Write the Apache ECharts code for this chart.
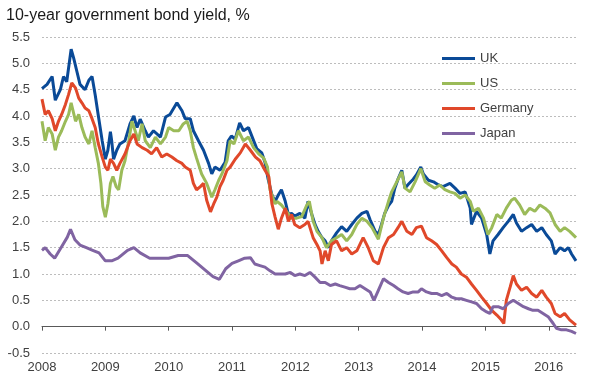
<!DOCTYPE html>
<html>
<head>
<meta charset="utf-8">
<script src="https://cdn.jsdelivr.net/npm/echarts@6/dist/echarts.min.js"></script>
<style>
html,body{margin:0;padding:0;background:#fff;}
#chart{width:590px;height:386px;}
</style>
</head>
<body>
<div id="chart"></div>
<script>
// Time positions (decimal years) and values (%)
var ukX = [2008.00,2008.08,2008.16,2008.21,2008.29,2008.34,2008.39,2008.46,2008.50,2008.55,2008.60,2008.68,2008.74,2008.79,2008.84,2008.89,2008.95,2009.00,2009.04,2009.08,2009.10,2009.13,2009.18,2009.23,2009.31,2009.39,2009.45,2009.50,2009.55,2009.63,2009.68,2009.76,2009.87,2009.95,2010.02,2010.13,2010.21,2010.26,2010.34,2010.39,2010.47,2010.55,2010.63,2010.68,2010.73,2010.81,2010.89,2010.94,2010.99,2011.05,2011.12,2011.18,2011.26,2011.39,2011.47,2011.52,2011.57,2011.63,2011.68,2011.73,2011.78,2011.84,2011.89,2011.94,2011.99,2012.07,2012.15,2012.20,2012.26,2012.31,2012.36,2012.42,2012.47,2012.52,2012.57,2012.65,2012.73,2012.81,2012.89,2012.97,2013.05,2013.13,2013.18,2013.26,2013.31,2013.36,2013.41,2013.47,2013.52,2013.57,2013.62,2013.68,2013.73,2013.78,2013.86,2013.91,2013.98,2014.02,2014.10,2014.18,2014.26,2014.33,2014.44,2014.52,2014.60,2014.68,2014.76,2014.78,2014.86,2014.94,2015.02,2015.07,2015.12,2015.20,2015.28,2015.36,2015.44,2015.49,2015.57,2015.65,2015.73,2015.81,2015.89,2015.96,2016.04,2016.10,2016.18,2016.25,2016.31,2016.36,2016.43];
var ukY = [4.52,4.60,4.75,4.30,4.50,4.75,4.65,5.27,5.10,4.85,4.60,4.50,4.68,4.75,4.40,4.00,3.53,3.18,3.35,3.70,3.53,3.18,3.35,3.47,3.53,3.85,4.00,3.78,3.94,3.72,3.60,3.72,3.60,3.98,4.03,4.25,4.10,3.95,3.95,3.72,3.53,3.35,3.10,2.90,3.03,2.97,3.12,3.53,3.62,3.56,3.87,3.72,3.78,3.38,3.30,3.12,2.80,2.50,2.38,2.50,2.60,2.38,2.13,2.15,2.10,2.15,2.06,2.38,2.13,1.94,1.81,1.69,1.63,1.50,1.63,1.78,1.90,1.81,1.94,2.06,2.15,2.19,2.03,1.81,1.75,1.94,2.15,2.30,2.38,2.63,2.80,2.97,2.63,2.70,2.80,2.88,3.03,2.90,2.78,2.75,2.69,2.66,2.72,2.63,2.53,2.56,2.25,1.94,2.19,2.06,1.75,1.38,1.63,1.75,1.88,2.00,2.13,1.97,1.81,1.88,1.94,1.81,1.88,1.75,1.63,1.38,1.50,1.44,1.50,1.38,1.25];

var usX = [2008.00,2008.05,2008.10,2008.16,2008.21,2008.26,2008.31,2008.37,2008.42,2008.46,2008.53,2008.58,2008.63,2008.68,2008.74,2008.79,2008.84,2008.89,2008.93,2008.96,2009.00,2009.04,2009.08,2009.12,2009.17,2009.21,2009.26,2009.31,2009.37,2009.42,2009.47,2009.52,2009.58,2009.63,2009.71,2009.79,2009.87,2009.95,2010.00,2010.08,2010.16,2010.23,2010.29,2010.34,2010.39,2010.44,2010.52,2010.60,2010.68,2010.73,2010.79,2010.84,2010.92,2010.97,2011.03,2011.10,2011.18,2011.26,2011.34,2011.42,2011.50,2011.56,2011.60,2011.68,2011.71,2011.78,2011.86,2011.94,2012.02,2012.10,2012.18,2012.22,2012.28,2012.34,2012.42,2012.49,2012.57,2012.65,2012.73,2012.81,2012.89,2012.97,2013.05,2013.13,2013.21,2013.31,2013.39,2013.47,2013.52,2013.60,2013.68,2013.73,2013.81,2013.89,2013.98,2014.05,2014.12,2014.20,2014.28,2014.36,2014.44,2014.52,2014.60,2014.68,2014.76,2014.81,2014.89,2014.97,2015.04,2015.10,2015.18,2015.25,2015.33,2015.41,2015.46,2015.54,2015.62,2015.70,2015.78,2015.86,2015.94,2016.02,2016.10,2016.18,2016.25,2016.33,2016.43];
var usY = [3.90,3.53,3.78,3.66,3.35,3.60,3.72,3.90,4.03,4.25,3.90,4.03,3.78,3.60,3.47,3.72,3.40,3.10,2.72,2.28,2.08,2.33,2.72,2.85,2.66,2.60,2.97,3.15,3.53,3.90,3.72,3.53,3.85,3.53,3.40,3.60,3.47,3.60,3.78,3.72,3.72,3.85,3.90,3.72,3.40,3.20,2.90,2.72,2.46,2.60,2.78,2.90,3.15,3.53,3.47,3.72,3.53,3.60,3.40,3.28,3.20,3.03,2.60,2.33,2.38,2.31,2.19,2.06,2.06,2.09,2.31,2.38,2.00,1.81,1.69,1.50,1.63,1.69,1.75,1.63,1.75,1.94,2.06,2.00,1.88,1.66,2.06,2.38,2.56,2.75,2.94,2.63,2.56,2.75,3.00,2.75,2.69,2.63,2.69,2.60,2.56,2.53,2.44,2.50,2.38,2.19,2.25,2.06,1.75,1.88,2.13,2.06,2.25,2.40,2.44,2.31,2.13,2.25,2.19,2.31,2.25,2.16,1.94,1.81,1.88,1.81,1.69];

var deX = [2008.00,2008.05,2008.10,2008.16,2008.21,2008.26,2008.31,2008.37,2008.42,2008.47,2008.53,2008.58,2008.63,2008.68,2008.74,2008.79,2008.84,2008.89,2008.95,2009.00,2009.04,2009.08,2009.13,2009.18,2009.23,2009.31,2009.39,2009.45,2009.50,2009.58,2009.66,2009.73,2009.81,2009.89,2009.97,2010.05,2010.13,2010.21,2010.26,2010.34,2010.39,2010.44,2010.50,2010.55,2010.60,2010.66,2010.71,2010.76,2010.81,2010.86,2010.92,2010.97,2011.05,2011.13,2011.21,2011.29,2011.37,2011.44,2011.52,2011.58,2011.63,2011.68,2011.73,2011.78,2011.84,2011.89,2011.94,2011.99,2012.07,2012.15,2012.20,2012.28,2012.34,2012.39,2012.42,2012.47,2012.52,2012.57,2012.65,2012.73,2012.81,2012.89,2012.97,2013.07,2013.15,2013.23,2013.31,2013.39,2013.47,2013.55,2013.62,2013.68,2013.76,2013.84,2013.91,2013.99,2014.07,2014.15,2014.23,2014.31,2014.39,2014.47,2014.54,2014.62,2014.70,2014.78,2014.86,2014.94,2015.02,2015.10,2015.18,2015.25,2015.29,2015.33,2015.39,2015.44,2015.49,2015.57,2015.65,2015.73,2015.81,2015.89,2015.96,2016.04,2016.10,2016.18,2016.25,2016.33,2016.43];
var deY = [4.32,4.03,4.10,3.95,3.72,3.90,4.03,4.22,4.41,4.63,4.53,4.34,4.25,4.15,4.10,3.95,3.78,3.47,3.22,3.03,2.97,3.18,3.10,2.97,3.10,3.28,3.53,3.66,3.47,3.40,3.35,3.28,3.40,3.22,3.28,3.22,3.15,3.10,3.03,2.97,2.72,2.60,2.66,2.72,2.40,2.18,2.33,2.46,2.66,2.78,2.97,3.03,3.18,3.30,3.47,3.35,3.22,3.15,2.97,2.85,2.33,2.08,1.85,2.06,2.25,2.00,2.13,1.94,1.88,1.94,2.00,1.69,1.56,1.44,1.19,1.44,1.25,1.56,1.63,1.44,1.50,1.38,1.44,1.69,1.50,1.25,1.19,1.50,1.69,1.75,1.88,2.00,1.81,1.75,1.88,1.91,1.69,1.63,1.56,1.44,1.31,1.19,1.13,1.00,0.94,0.81,0.69,0.56,0.44,0.31,0.22,0.13,0.06,0.50,0.75,0.97,0.81,0.69,0.75,0.63,0.56,0.69,0.56,0.44,0.25,0.19,0.25,0.13,0.03];

var jpX = [2008.00,2008.05,2008.13,2008.20,2008.30,2008.40,2008.45,2008.52,2008.60,2008.70,2008.80,2008.90,2009.00,2009.10,2009.20,2009.35,2009.45,2009.55,2009.70,2009.90,2010.00,2010.15,2010.30,2010.45,2010.60,2010.70,2010.80,2010.90,2011.00,2011.10,2011.20,2011.29,2011.36,2011.44,2011.52,2011.60,2011.68,2011.76,2011.84,2011.92,2011.99,2012.07,2012.15,2012.23,2012.31,2012.39,2012.47,2012.55,2012.63,2012.70,2012.78,2012.86,2012.94,2013.02,2013.10,2013.18,2013.24,2013.31,2013.39,2013.47,2013.55,2013.62,2013.70,2013.78,2013.86,2013.94,2013.99,2014.07,2014.15,2014.23,2014.31,2014.39,2014.47,2014.54,2014.62,2014.70,2014.78,2014.86,2014.94,2015.02,2015.07,2015.12,2015.20,2015.28,2015.36,2015.44,2015.52,2015.60,2015.68,2015.75,2015.83,2015.91,2015.99,2016.07,2016.12,2016.20,2016.28,2016.36,2016.43];
var jpY = [1.45,1.50,1.38,1.30,1.50,1.70,1.85,1.65,1.55,1.50,1.45,1.40,1.25,1.25,1.30,1.45,1.50,1.40,1.30,1.30,1.30,1.35,1.35,1.20,1.05,0.95,0.90,1.10,1.20,1.25,1.30,1.31,1.19,1.16,1.13,1.06,1.00,1.00,1.00,1.03,0.97,1.00,0.97,1.03,0.94,0.84,0.84,0.78,0.81,0.78,0.75,0.72,0.72,0.78,0.72,0.66,0.50,0.69,0.91,0.84,0.78,0.72,0.66,0.63,0.66,0.66,0.72,0.66,0.63,0.63,0.59,0.63,0.56,0.53,0.53,0.50,0.47,0.44,0.34,0.28,0.25,0.38,0.38,0.34,0.44,0.50,0.44,0.38,0.34,0.31,0.31,0.25,0.19,0.06,-0.03,-0.06,-0.06,-0.09,-0.13];

var seriesNames = ['UK', 'US', 'Germany', 'Japan'];
var yearTicks = [2008, 2009, 2010, 2011, 2012, 2013, 2014, 2015, 2016];
var titleText = '10-year government bond yield, %';

function pairs(xs, ys) { return xs.map(function (x, i) { return [x, ys[i]]; }); }

var colors = { UK: '#0a4a97', US: '#9bbb59', Germany: '#e0482a', Japan: '#8064a2' };
var dataMap = { UK: pairs(ukX, ukY), US: pairs(usX, usY), Germany: pairs(deX, deY), Japan: pairs(jpX, jpY) };

var chart = echarts.init(document.getElementById('chart'), null, { renderer: 'canvas' });
var font = 'Liberation Sans, Arial, sans-serif';
chart.setOption({
  animation: false,
  backgroundColor: '#fff',
  title: {
    text: titleText, left: 1, top: 3,
    textStyle: { fontFamily: font, fontSize: 16, fontWeight: 'normal', color: '#1a1a1a' }
  },
  legend: {
    data: seriesNames, orient: 'vertical', left: 437, top: 47,
    itemWidth: 33, itemHeight: 3, itemGap: 12, icon: 'rect',
    textStyle: { fontFamily: font, fontSize: 13, color: '#404040' }
  },
  grid: { left: 42, right: 14, top: 37, bottom: 33, outerBoundsMode: 'none', containLabel: false },
  xAxis: {
    type: 'value', min: 2008, max: 2016.43, interval: 1,
    axisLine: { show: true, lineStyle: { color: '#595959', width: 1 } },
    axisTick: { show: true, length: 4, lineStyle: { color: '#595959' } },
    splitLine: { show: false },
    axisLabel: {
      showMaxLabel: false, margin: 8, fontFamily: font, fontSize: 13, color: '#404040',
      formatter: function (v) { return yearTicks.indexOf(Math.round(v)) >= 0 && Math.abs(v - Math.round(v)) < 1e-6 ? String(Math.round(v)) : ''; }
    }
  },
  yAxis: {
    type: 'value', min: -0.5, max: 5.5, interval: 0.5,
    axisLine: { show: false }, axisTick: { show: false },
    splitLine: { show: true, lineStyle: { color: '#bdbdbd', type: [2, 2], width: 1 } },
    axisLabel: { margin: 12, fontFamily: font, fontSize: 13, color: '#404040',
      formatter: function (v) { return v.toFixed(1); } }
  },
  series: seriesNames.map(function (n) {
    return {
      name: n, type: 'line', data: dataMap[n], showSymbol: false, symbol: 'none',
      color: colors[n], lineStyle: { width: 3, color: colors[n] }, z: 2
    };
  })
});
</script>
</body>
</html>
